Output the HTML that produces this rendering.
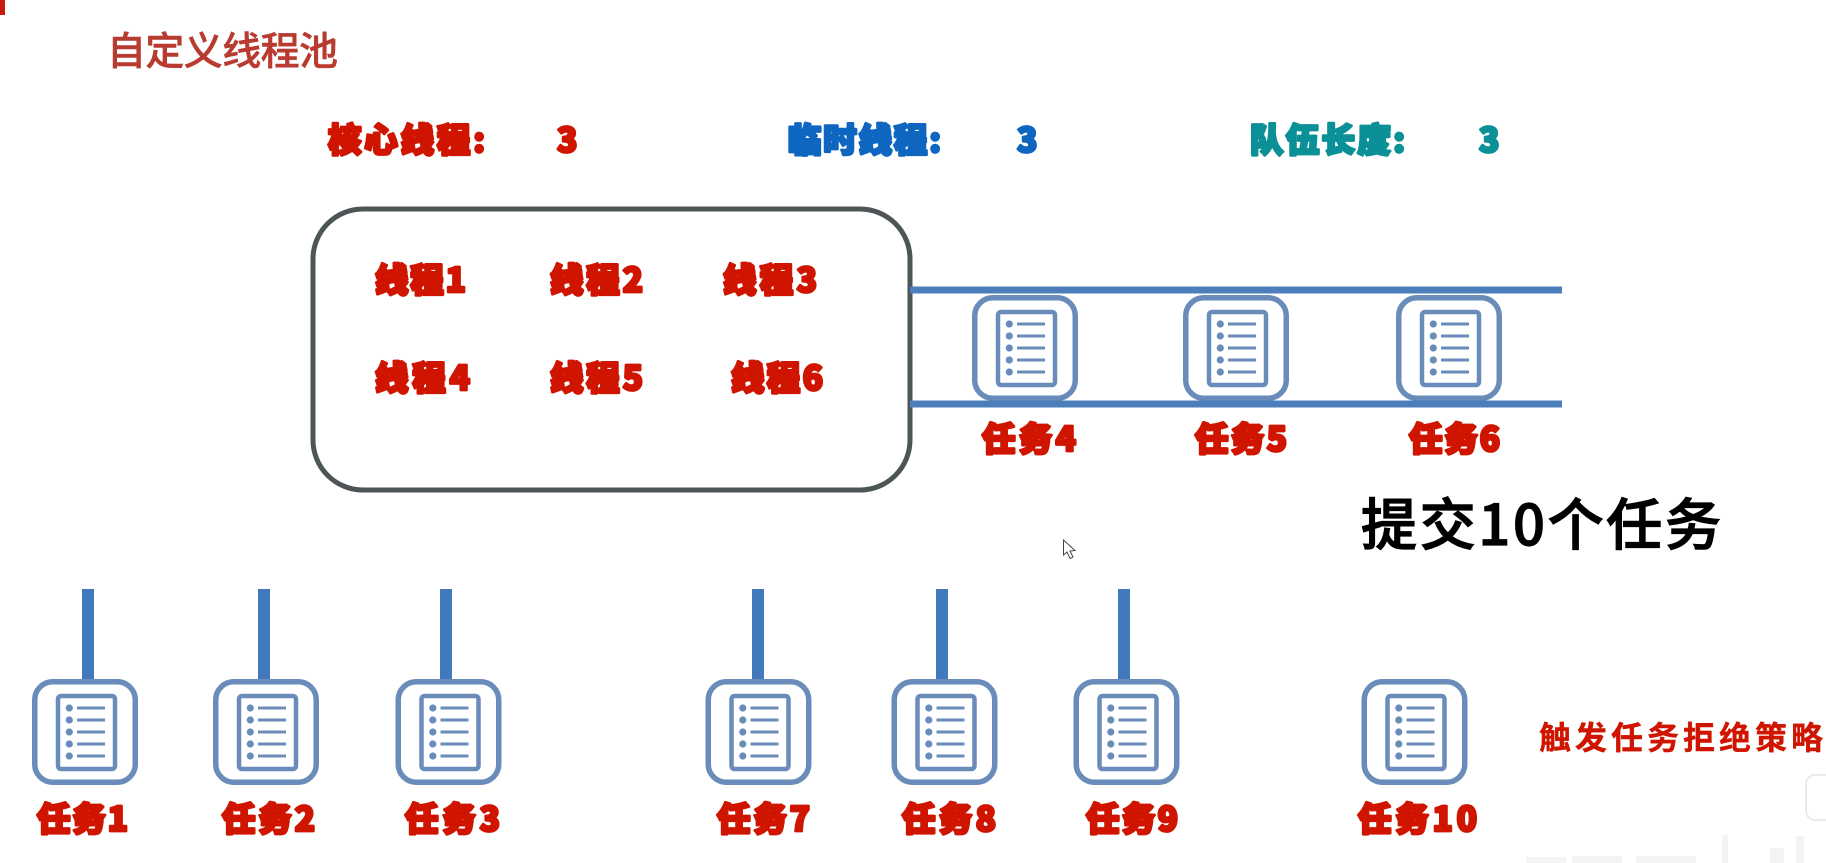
<!DOCTYPE html>
<html lang="zh">
<head>
<meta charset="utf-8">
<title>自定义线程池</title>
<style>
html,body{margin:0;padding:0;background:#fff;width:1826px;height:863px;overflow:hidden}
svg{display:block}
text{font-family:"Liberation Sans","Noto Sans CJK SC",sans-serif}
.f{font-family:"Noto Sans CJK SC",sans-serif;font-weight:900;font-size:33.5px;stroke-width:2.8px;stroke-linejoin:round;paint-order:stroke}
.r{fill:#cf1500;stroke:#cf1500}
.b{fill:#0f66c0;stroke:#0f66c0}
.t{fill:#0a9096;stroke:#0a9096}
</style>
</head>
<body>
<svg width="1826" height="863" viewBox="0 0 1826 863" xmlns="http://www.w3.org/2000/svg">
<defs>
<g id="ic">
<rect x="2.750" y="2.750" width="100.500" height="100.500" rx="18" fill="#fff" stroke="#6a8cba" stroke-width="5.500"/>
<rect x="26" y="17" width="57" height="73" rx="3" fill="#fff" stroke="#6a8cba" stroke-width="4.500"/>
<g fill="#6a8cba">
<circle cx="37.3" cy="29" r="3.600"/><circle cx="37.3" cy="41" r="3.600"/><circle cx="37.3" cy="53" r="3.600"/><circle cx="37.3" cy="65" r="3.600"/><circle cx="37.3" cy="77" r="3.600"/>
</g>
<g stroke="#6a8cba" stroke-width="3">
<line x1="45" y1="29" x2="73" y2="29"/><line x1="45" y1="41" x2="73" y2="41"/><line x1="45" y1="53" x2="73" y2="53"/><line x1="45" y1="65" x2="73" y2="65"/><line x1="45" y1="77" x2="73" y2="77"/>
</g>
</g>
</defs>

<rect x="0" y="0" width="5" height="15" fill="#c51a0c"/>

<text x="107" y="65" font-size="39" fill="#b83b30" stroke="#b83b30" stroke-width="0.5" font-weight="500" textLength="231" style="font-family:'Noto Sans CJK SC',sans-serif">自定义线程池</text>

<text class="f r" x="328" y="152" textLength="157">核心线程:</text>
<text class="f r" x="557" y="152" textLength="22">3</text>
<text class="f b" x="788" y="152" textLength="153">临时线程:</text>
<text class="f b" x="1017" y="152" textLength="22">3</text>
<text class="f t" x="1250" y="152" textLength="155">队伍长度:</text>
<text class="f t" x="1479" y="152" textLength="22">3</text>

<rect x="313" y="209" width="597" height="281" rx="50" fill="#fff" stroke="#4d5556" stroke-width="5"/>

<text class="f r" x="375" y="292" textLength="91">线程1</text>
<text class="f r" x="550" y="292" textLength="93">线程2</text>
<text class="f r" x="723" y="292" textLength="94">线程3</text>
<text class="f r" x="375" y="390" textLength="95">线程4</text>
<text class="f r" x="550" y="390" textLength="93">线程5</text>
<text class="f r" x="731" y="390" textLength="92">线程6</text>

<use href="#ic" x="972" y="295"/>
<use href="#ic" x="1183" y="295"/>
<use href="#ic" x="1396" y="295"/>
<rect x="910" y="286.500" width="652" height="7" fill="#4b7ebb"/>
<rect x="910" y="400.500" width="652" height="7" fill="#4b7ebb"/>

<text class="f r" x="982" y="451" textLength="94">任务4</text>
<text class="f r" x="1195" y="451" textLength="92">任务5</text>
<text class="f r" x="1409" y="451" textLength="91">任务6</text>

<text x="1361" y="545" font-size="56" fill="#000" stroke="#000" stroke-width="1.200" font-weight="500" textLength="360" style="font-family:'Noto Sans CJK SC',sans-serif">提交10个任务</text>

<path d="M1063.5 540 L1063.5 555 L1067 552 L1070 558.5 L1073 557 L1070 551 L1075 550.5 Z" fill="#fff" stroke="#444" stroke-width="1"/>

<g fill="#4279bd">
<rect x="82" y="589" width="12" height="92"/>
<rect x="258" y="589" width="12" height="92"/>
<rect x="440" y="589" width="12" height="92"/>
<rect x="752" y="589" width="12" height="92"/>
<rect x="936" y="589" width="12" height="92"/>
<rect x="1118" y="589" width="12" height="92"/>
</g>

<use href="#ic" x="32" y="679"/>
<use href="#ic" x="213" y="679"/>
<use href="#ic" x="395.500" y="679"/>
<use href="#ic" x="705.500" y="679"/>
<use href="#ic" x="891.500" y="679"/>
<use href="#ic" x="1073.500" y="679"/>
<use href="#ic" x="1361.500" y="679"/>

<text class="f r" x="37" y="831" textLength="91">任务1</text>
<text class="f r" x="222" y="831" textLength="93">任务2</text>
<text class="f r" x="405" y="831" textLength="95">任务3</text>
<text class="f r" x="717" y="831" textLength="93">任务7</text>
<text class="f r" x="902" y="831" textLength="94">任务8</text>
<text class="f r" x="1086" y="831" textLength="92">任务9</text>
<text class="f r" x="1358" y="831" textLength="119">任务10</text>

<text x="1539" y="749" font-size="32" fill="#cf1500" stroke="#cf1500" stroke-width="0.4" font-weight="700" textLength="284" style="font-family:'Noto Sans CJK SC',sans-serif">触发任务拒绝策略</text>

<rect x="1806" y="775" width="30" height="45" rx="9" fill="#fff" stroke="#e4e4e4" stroke-width="1.500"/>
<g fill="#f4f4f4">
<rect x="1526" y="857" width="40" height="6"/>
<rect x="1572" y="856" width="50" height="7"/>
<rect x="1636" y="856" width="60" height="7"/>
<rect x="1722" y="835" width="6" height="28"/>
<rect x="1770" y="848" width="14" height="15"/>
<rect x="1796" y="836" width="8" height="27"/>
</g>
</svg>
</body>
</html>
